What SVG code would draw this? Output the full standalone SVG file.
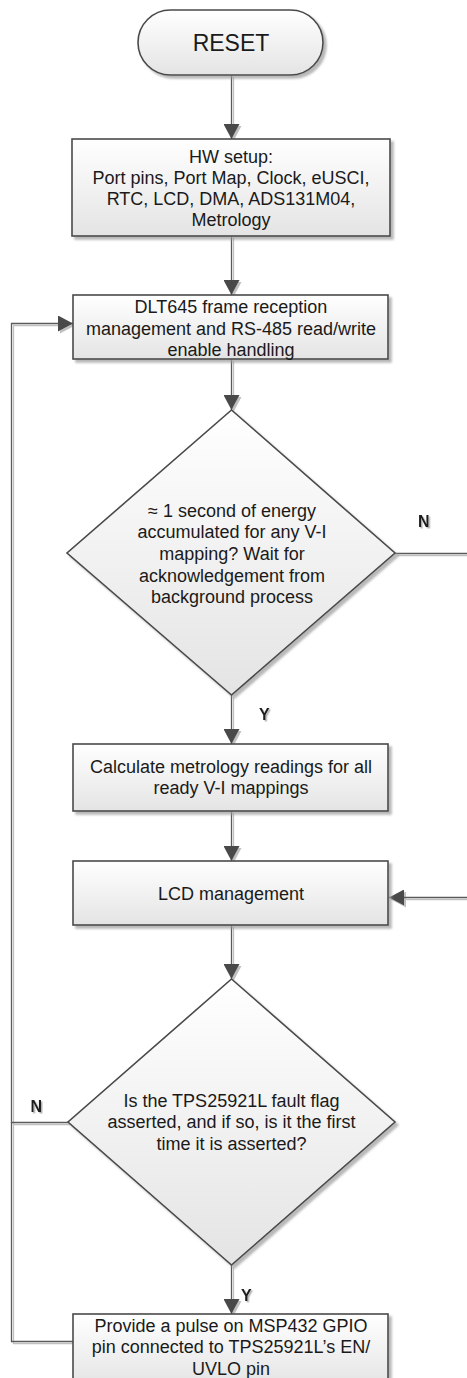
<svg xmlns="http://www.w3.org/2000/svg" width="467" height="1378" viewBox="0 0 467 1378">
<style>
.shape{fill:url(#grad);stroke:#4a4a4a;stroke-width:1.6;filter:url(#shadow)}
.txt{font-family:"Liberation Sans",Arial,sans-serif;font-size:18px;fill:#1a1a1a;text-anchor:middle}
.big{font-size:23px}
.lbl{font-family:"Liberation Sans",Arial,sans-serif;font-size:16px;font-weight:bold;fill:#1a1a1a;filter:url(#tshadow)}
.conn{fill:none;stroke:#5a5a5a;stroke-width:1.3}
.arr{marker-end:url(#ah)}
</style>
<defs>
<linearGradient id="grad" x1="0" y1="0" x2="0" y2="1">
<stop offset="0" stop-color="#ffffff"/>
<stop offset="1" stop-color="#e4e4e4"/>
</linearGradient>
<filter id="shadow" x="-10%" y="-10%" width="125%" height="125%">
<feDropShadow dx="3" dy="3" stdDeviation="1" flood-color="#9a9a9a" flood-opacity="0.7"/>
</filter>
<filter id="cshadow" x="-10%" y="-10%" width="130%" height="130%">
<feDropShadow dx="2" dy="2" stdDeviation="0.4" flood-color="#b0b0b0" flood-opacity="0.8"/>
</filter>
<filter id="tshadow" x="-20%" y="-20%" width="150%" height="150%">
<feDropShadow dx="1.5" dy="1.5" stdDeviation="0.5" flood-color="#a0a0a0" flood-opacity="0.8"/>
</filter>
<marker id="ah" markerUnits="userSpaceOnUse" markerWidth="16" markerHeight="16" refX="15" refY="8" orient="auto">
<path d="M0,0 L15,8 L0,16 Z" fill="#4a4a4a"/>
</marker>
</defs>
<rect width="467" height="1378" fill="#ffffff"/>

<g id="connectors" filter="url(#cshadow)">
<path class="conn arr" d="M231.5,75 V139"/>
<path class="conn arr" d="M231.5,236 V295"/>
<path class="conn arr" d="M231.5,359 V410"/>
<path class="conn arr" d="M231.5,695 V744"/>
<path class="conn arr" d="M231.5,811 V861"/>
<path class="conn arr" d="M231.5,925 V979"/>
<path class="conn arr" d="M231.5,1265 V1314"/>
<path class="conn arr" d="M395,553.5 H472 V897.5 H389"/>
<path class="conn arr" d="M68,1122.5 H11.5 V323.5 H73"/>
<path class="conn" d="M73,1341.5 H11.5 V1122"/>
</g>
<g id="labels">
<text class="lbl" x="418" y="527">N</text>
<text class="lbl" x="259" y="720">Y</text>
<text class="lbl" x="30.5" y="1112">N</text>
<text class="lbl" x="241" y="1300.5">Y</text>
</g>

<g id="reset">
<rect class="shape" x="138" y="10" width="185" height="65" rx="32.5" ry="32.5"/>
<text class="txt big" x="231" y="50.5">RESET</text>
</g>

<g id="hwsetup">
<rect class="shape" x="72" y="139" width="318" height="97"/>
<text class="txt" x="231" y="162.5">HW setup:</text>
<text class="txt" x="231" y="183.7">Port pins, Port Map, Clock, eUSCI,</text>
<text class="txt" x="231" y="204.9">RTC, LCD, DMA, ADS131M04,</text>
<text class="txt" x="231" y="226.1">Metrology</text>
</g>

<g id="dlt645">
<rect class="shape" x="73" y="295" width="315" height="64"/>
<text class="txt" x="231" y="313.3">DLT645 frame reception</text>
<text class="txt" x="231" y="334.5">management and RS-485 read/write</text>
<text class="txt" x="231" y="355.5">enable handling</text>
</g>

<g id="decision1">
<polygon class="shape" points="231.5,410 395,553 231.5,695 67,553"/>
<text class="txt" x="232" y="516.7">≈ 1 second of energy</text>
<text class="txt" x="232" y="538.3">accumulated for any V-I</text>
<text class="txt" x="232" y="560">mapping? Wait for</text>
<text class="txt" x="232" y="581.7">acknowledgement from</text>
<text class="txt" x="232" y="603.3">background process</text>
</g>

<g id="calc">
<rect class="shape" x="73" y="744" width="315" height="67"/>
<text class="txt" x="231" y="773.3">Calculate metrology readings for all</text>
<text class="txt" x="231" y="794.3">ready V-I mappings</text>
</g>

<g id="lcd">
<rect class="shape" x="73" y="861" width="315" height="64"/>
<text class="txt" x="231" y="899.5">LCD management</text>
</g>

<g id="decision2">
<polygon class="shape" points="231.5,979 395,1122 231.5,1265 68,1122"/>
<text class="txt" x="231.5" y="1106.7">Is the TPS25921L fault flag</text>
<text class="txt" x="231.5" y="1128.3">asserted, and if so, is it the first</text>
<text class="txt" x="231.5" y="1150">time it is asserted?</text>
</g>

<g id="pulse">
<rect class="shape" x="73" y="1314" width="315" height="72"/>
<text class="txt" x="231" y="1331.7">Provide a pulse on MSP432 GPIO</text>
<text class="txt" x="231" y="1353.3">pin connected to TPS25921L’s EN/</text>
<text class="txt" x="231" y="1375">UVLO pin</text>
</g>
</svg>
